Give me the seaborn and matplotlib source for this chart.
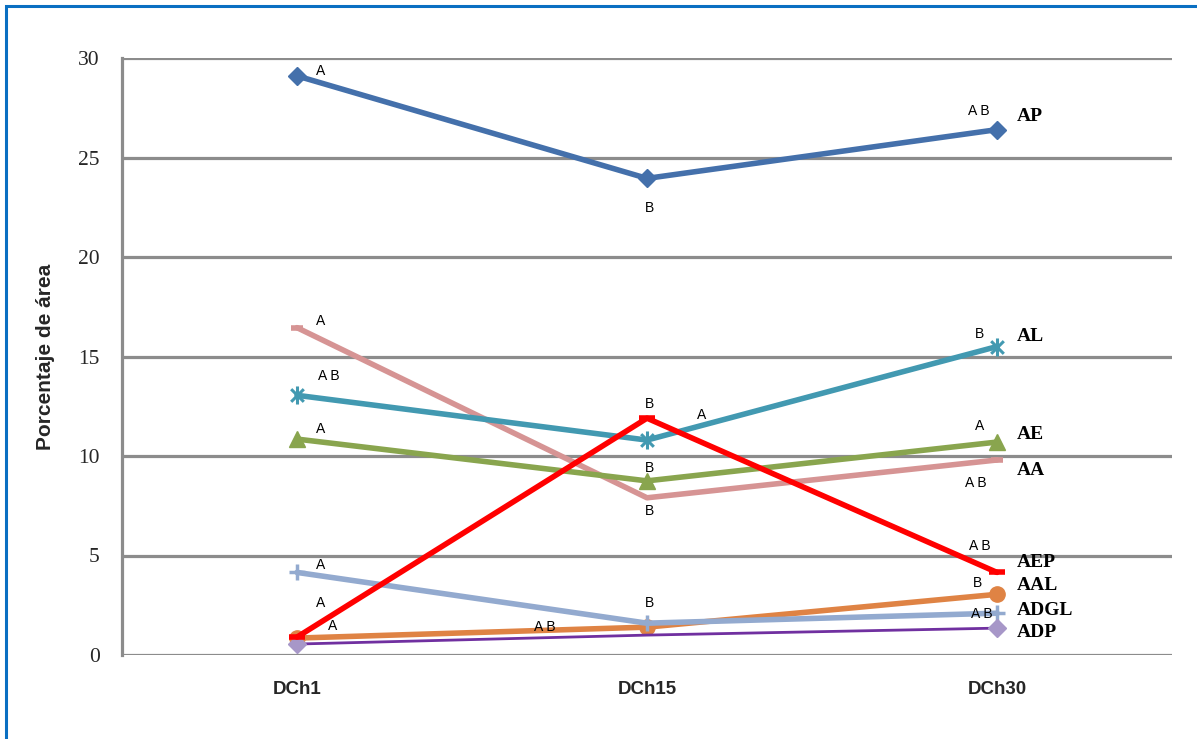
import matplotlib
matplotlib.use("Agg")
import matplotlib.pyplot as plt
import seaborn as sns
import pandas as pd
from matplotlib.patches import Rectangle
from matplotlib.path import Path

# Sampling days
categories = ["DCh1", "DCh15", "DCh30"]

# Percentage of area per compound
ap = [29.1, 23.95, 26.4]
aa = [16.45, 7.9, 9.8]
al = [13.05, 10.8, 15.5]
ae = [10.85, 8.75, 10.7]
aep = [0.9, 11.9, 4.15]
aal = [0.85, 1.4, 3.05]
adgl = [4.15, 1.6, 2.1]
adp = [0.55, 1.0, 1.35]

# Significance letters per point
ap_letters = ["A", "B", "A B"]
aa_letters = ["A", "B", "A B"]
al_letters = ["A B", "A", "B"]
ae_letters = ["A", "B", "A"]
aep_letters = ["A", "B", "A B"]
aal_letters = ["A", "A B", "B"]
adgl_letters = ["A", "B", "A B"]
adp_letters = ["", "", ""]

series_names = ["AP", "AA", "AL", "AE", "AAL", "ADGL", "ADP", "AEP"]
series_values = [ap, aa, al, ae, aal, adgl, adp, aep]
series_letters = [ap_letters, aa_letters, al_letters, ae_letters,
                  aal_letters, adgl_letters, adp_letters, aep_letters]

rows = []
for name, vals in zip(series_names, series_values):
    for cat, v in zip(categories, vals):
        rows.append({"serie": name, "dia": cat, "area": v})
df = pd.DataFrame(rows)

# Star marker: an X crossed by a vertical stroke
star = Path([(-0.7, -0.7), (0.7, 0.7), (-0.7, 0.7), (0.7, -0.7), (0, -1), (0, 1)],
            [Path.MOVETO, Path.LINETO, Path.MOVETO, Path.LINETO, Path.MOVETO, Path.LINETO])

# Line / marker styling per series
styles = {
    "AP":   dict(color="#4470AB", marker="D", ms=9, mew=1, lw=4.0, mfc=None, every=None),
    "AA":   dict(color="#D69494", marker="_", ms=9, mew=4, lw=4.0, mfc=None, every=[0, 2]),
    "AL":   dict(color="#4299B1", marker=star, ms=13, mew=2.2, lw=4.0, mfc=None, every=None),
    "AE":   dict(color="#89A54E", marker="^", ms=11, mew=1, lw=4.0, mfc=None, every=None),
    "AEP":  dict(color="#FF0000", marker="_", ms=12, mew=4, lw=4.0, mfc=None, every=None),
    "AAL":  dict(color="#DF8344", marker="o", ms=11, mew=1, lw=4.0, mfc=None, every=None),
    "ADGL": dict(color="#93AACF", marker="+", ms=12, mew=2.5, lw=4.0, mfc=None, every=None),
    "ADP":  dict(color="#7030A0", marker="D", ms=9, mew=1, lw=2.0, mfc="#A797C8", every=[0, 2]),
}

# Letter offsets (pixels, +y up) relative to each point
letter_offsets = {
    "AP":   [(24, 5), (2, -30), (-18, 19)],
    "AA":   [(24, 7), (2, -13), (-21, -23)],
    "AL":   [(32, 19), (55, 25), (-17, 13)],
    "AE":   [(24, 10), (2, 13), (-17, 16)],
    "AEP":  [(24, 34), (2, 14), (-17, 26)],
    "AAL":  [(36, 12), (-102, 0), (-20, 11)],
    "ADGL": [(24, 7), (2, 20), (-15, -1)],
    "ADP":  [(0, 0), (0, 0), (0, 0)],
}
# Series name offsets at the last point
name_offsets = {"AP": 13, "AL": 10, "AE": 8, "AA": -11, "AEP": 10,
                "AAL": 9, "ADGL": 3, "ADP": -4}

sns.set_theme(style="white")
plt.rcParams["font.family"] = ["Liberation Sans", "DejaVu Sans"]

W, H = 1197, 739
fig = plt.figure(figsize=(W / 100, H / 100), dpi=100)
ax = fig.add_axes([122 / W, 1 - 655 / H, (1172 - 122) / W, (655 - 58) / H])

px = 72 / 100  # pixel -> point

for k, name in enumerate(series_names):
    st = styles[name]
    sub = df[df["serie"] == name]
    face = st["mfc"] if st["mfc"] else st["color"]
    sns.lineplot(data=sub, x="dia", y="area", ax=ax, color=st["color"],
                 linewidth=st["lw"], marker=st["marker"], markersize=st["ms"],
                 markeredgewidth=st["mew"], markerfacecolor=face,
                 markeredgecolor=face, markevery=st["every"],
                 legend=False, sort=False, zorder=3 + k * 0.1)

for name, vals, letters in zip(series_names, series_values, series_letters):
    for i, (v, lt) in enumerate(zip(vals, letters)):
        if not lt:
            continue
        dx, dy = letter_offsets[name][i]
        ax.annotate(lt, xy=(i, v), xytext=(dx * px, dy * px),
                    textcoords="offset points", ha="center", va="center",
                    fontsize=10, color="black", zorder=5)
    ax.annotate(name, xy=(2, vals[-1]), xytext=(20 * px, name_offsets[name] * px),
                textcoords="offset points", ha="left", va="center",
                fontsize=14, fontweight="bold", family="Liberation Serif",
                color="black", zorder=5)

ax.set_xlim(-0.5, 2.5)
ax.set_ylim(0, 30)
ax.set_yticks([0, 5, 10, 15, 20, 25, 30])
ax.set_yticklabels(["0", "5", "10", "15", "20", "25", "30"],
                   family="Liberation Serif", fontsize=15.5)
ax.set_xticks(range(len(categories)))
ax.set_xticklabels(categories, fontsize=13.5, fontweight="bold")
ax.tick_params(axis="y", length=0, pad=16)
ax.tick_params(axis="x", length=0, pad=19)
ax.yaxis.grid(True, color="#8C8C8C", linewidth=2.3)
ax.xaxis.grid(False)
ax.set_axisbelow(True)
for s in ["top", "right", "bottom"]:
    ax.spines[s].set_visible(False)
ax.spines["left"].set_color("#8C8C8C")
ax.spines["left"].set_linewidth(2.3)
ax.set_xlabel("")
ax.set_ylabel("Porcentaje de área", fontsize=15, fontweight="bold", labelpad=0)
ax.yaxis.set_label_coords((55 - 122) / (1172 - 122), 0.5)

# Outer frame
fig.patches.append(Rectangle((6 / W, -0.1), 1.2, 1 - 6 / H + 0.1,
                             transform=fig.transFigure, fill=False,
                             edgecolor="#0A6FC2", linewidth=2.2, zorder=10))

fig.savefig("out.png", dpi=100)
